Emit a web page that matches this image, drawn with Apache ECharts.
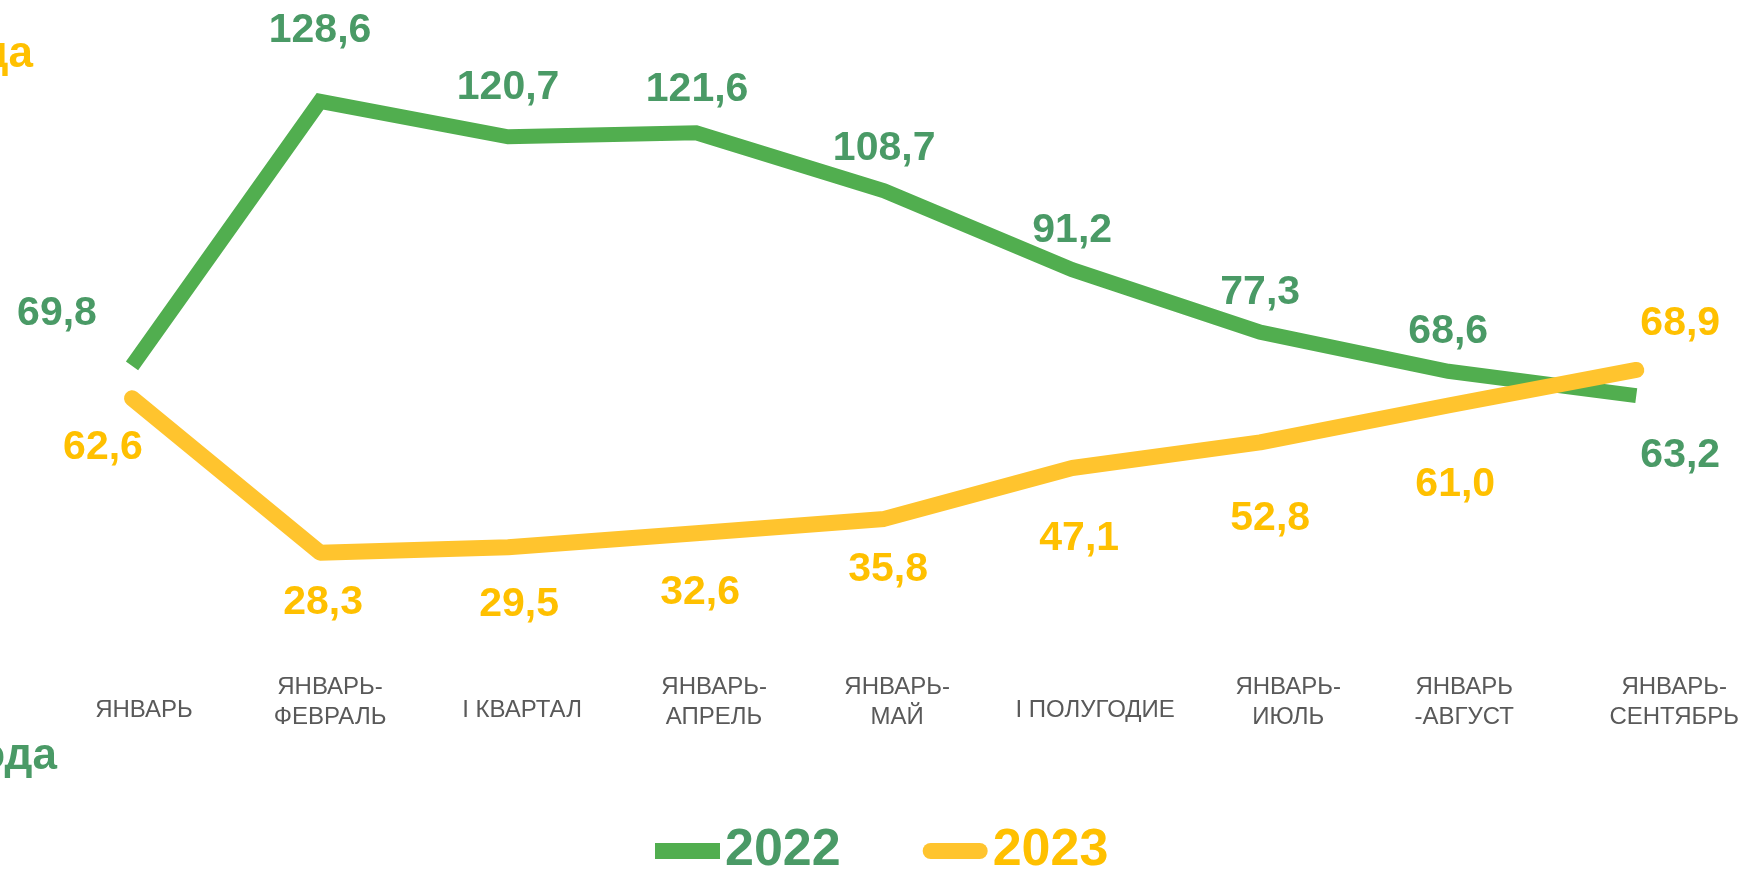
<!DOCTYPE html>
<html>
<head>
<meta charset="utf-8">
<script src="https://cdn.jsdelivr.net/npm/echarts@6/dist/echarts.min.js"></script>
<style>
  html, body { margin: 0; padding: 0; background: #fff; }
  #chart { width: 1742px; height: 869px; }
</style>
</head>
<body>
<div id="chart"></div>
<script>
// данные
const categories = [
  "ЯНВАРЬ",
  "ЯНВАРЬ-\nФЕВРАЛЬ",
  "I КВАРТАЛ",
  "ЯНВАРЬ-\nАПРЕЛЬ",
  "ЯНВАРЬ-\nМАЙ",
  "I ПОЛУГОДИЕ",
  "ЯНВАРЬ-\nИЮЛЬ",
  "ЯНВАРЬ\n-АВГУСТ",
  "ЯНВАРЬ-\nСЕНТЯБРЬ",
];
const seriesNames = ["2022", "2023"];
const values2022 = [69.8, 128.6, 120.7, 121.6, 108.7, 91.2, 77.3, 68.6, 63.2];
const values2023 = [62.6, 28.3, 29.5, 32.6, 35.8, 47.1, 52.8, 61.0, 68.9];

// смещения подписей (как на слайде)
const offsets2022 = [[-75, -52], [0, -71], [0, -49], [1, -43], [0, -42], [0, -39], [0, -39], [0, -40], [44, 60]];
const offsets2023 = [[-29, 49], [3, 50], [11, 57], [4, 59], [4, 51], [7, 71], [10, 76], [7, 79], [44, -46]];
// сдвиг подписей категорий вправо
const catShift = [12, 10, 14, 18, 13, 23, 28, 16, 38];

const FONT = "'Liberation Sans', Arial, sans-serif";
const greenLine = "#51AE4F";
const greenText = "#4A9A66";
const yellowLine = "#FFC42E";
const yellowText = "#FFC000";

function fmt(p) {
  return p.value.toFixed(1).replace(".", ",");
}

function buildData(values, offsets) {
  return values.map((v, i) => ({ value: v, label: { offset: offsets[i] } }));
}

// однострочные подписи стоят ниже двухстрочных
const catData = categories.map((c, i) => {
  const single = c.indexOf("\n") < 0;
  return {
    value: c,
    textStyle: {
      verticalAlign: single ? "top" : "middle",
      lineHeight: single ? 16 : 30,
      padding: [0, 0, 0, catShift[i] * 2],
    },
  };
});

const chart = echarts.init(document.getElementById("chart"));

const option = {
  animation: false,
  backgroundColor: "#fff",
  textStyle: { fontFamily: FONT },
  grid: { left: 38, width: 1694, top: 5, height: 675 },
  xAxis: {
    type: "category",
    data: catData,
    boundaryGap: true,
    axisLine: { show: false },
    axisTick: { show: false },
    axisLabel: {
      interval: 0,
      margin: 22,
      color: "#595959",
      fontSize: 24,
      lineHeight: 30,
      fontFamily: FONT,
      verticalAlign: "middle",
    },
  },
  yAxis: { type: "value", min: 0, max: 150, show: false },
  legend: {
    left: 650,
    top: 820,
    itemWidth: 65,
    itemHeight: 16,
    itemGap: 82,
    textStyle: { fontSize: 52, fontWeight: "bold", fontFamily: FONT },
    data: [
      { name: seriesNames[0], icon: "rect", textStyle: { color: greenText } },
      {
        name: seriesNames[1],
        icon: "path://M8,0 H57 A8,8 0 0 1 57,16 H8 A8,8 0 0 1 8,0 Z",
        textStyle: { color: yellowText },
      },
    ],
  },
  graphic: [
    {
      type: "text",
      style: { text: "года", x: 33, y: 55, align: "right", verticalAlign: "middle", font: "bold 44px " + FONT, fill: yellowText },
    },
    {
      type: "text",
      style: { text: "года", x: 57, y: 757, align: "right", verticalAlign: "middle", font: "bold 44px " + FONT, fill: greenText },
    },
  ],
  series: [
    {
      name: seriesNames[0],
      type: "line",
      color: greenLine,
      data: buildData(values2022, offsets2022),
      symbol: "circle",
      symbolSize: 0,
      lineStyle: { width: 15, color: greenLine, cap: "butt", join: "miter" },
      label: {
        show: true,
        position: "inside",
        formatter: fmt,
        color: greenText,
        fontSize: 41,
        fontWeight: "bold",
        fontFamily: FONT,
      },
      emphasis: { disabled: true },
    },
    {
      name: seriesNames[1],
      type: "line",
      color: yellowLine,
      data: buildData(values2023, offsets2023),
      symbol: "circle",
      symbolSize: 0,
      lineStyle: { width: 16, color: yellowLine, cap: "round", join: "round" },
      label: {
        show: true,
        position: "inside",
        formatter: fmt,
        color: yellowText,
        fontSize: 41,
        fontWeight: "bold",
        fontFamily: FONT,
      },
      emphasis: { disabled: true },
    },
  ],
};

chart.setOption(option);
</script>
</body>
</html>
